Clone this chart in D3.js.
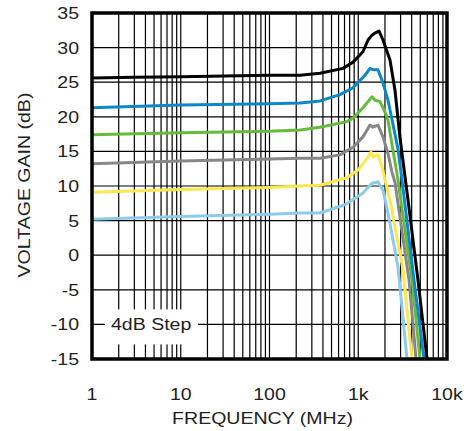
<!DOCTYPE html>
<html>
<head>
<meta charset="utf-8">
<script src="https://cdn.jsdelivr.net/npm/d3@7"></script>
<style>
  body { margin: 0; background: #fff; }
  text { font-family: "Liberation Sans", Arial, sans-serif; fill: #222; }
</style>
</head>
<body>
<svg id="chart" width="464" height="431"></svg>
<script>
// tick values and labels
const freqTicks = [1, 10, 100, 1000, 10000];
const freqLabels = ['1', '10', '100', '1k', '10k'];
const gainTicks = [-15, -10, -5, 0, 5, 10, 15, 20, 25, 30, 35];

// [frequency MHz, gain dB]
const black = [[1, 25.6], [3, 25.7], [10, 25.8], [100, 26.0], [221, 26.0], [371, 26.3], [673, 27.0], [873, 27.9],
  [1130, 29.4], [1288, 31.1], [1429, 31.8], [1545, 32.1], [1713, 32.4], [1900, 31.1], [2279, 28.2], [2596, 23.8],
  [2953, 17.0], [3276, 12.5], [3636, 8.0], [4710, -3.6], [5955, -15]];
const blue = [[1, 21.3], [10, 21.7], [100, 21.9], [221, 22.0], [371, 22.3], [623, 23.2], [873, 24.2], [1190, 26.0],
  [1356, 27.0], [1466, 26.8], [1668, 26.8], [1900, 24.9], [2163, 22.4], [2400, 19.6], [2805, 15.3], [3112, 10.9],
  [4250, -3.6], [5510, -15]];
const green = [[1, 17.4], [10, 17.7], [100, 17.9], [221, 18.1], [371, 18.5], [747, 19.3], [873, 19.8], [1130, 21.3],
  [1429, 22.9], [1545, 22.4], [1759, 22.2], [2001, 20.7], [2163, 19.5], [2400, 16.0], [2805, 10.9], [4032, -3.6],
  [4963, -15]];
const gray = [[1, 13.2], [10, 13.6], [100, 13.9], [221, 14.0], [371, 14.0], [623, 14.5], [873, 15.6], [1130, 17.1],
  [1356, 18.8], [1466, 18.5], [1668, 18.8], [1900, 17.1], [2163, 14.7], [2400, 12.0], [2596, 10.5], [3733, -3.6],
  [4477, -15]];
const yellow = [[1, 9.1], [10, 9.5], [100, 9.8], [221, 10.0], [371, 10.1], [747, 11.2], [994, 12.3], [1255, 14.0],
  [1393, 14.9], [1466, 14.2], [1668, 14.5], [1853, 12.8], [2001, 10.9], [2279, 8.0], [2596, 4.0], [2953, 0.3],
  [3193, -2.1], [4032, -15]];
const lightBlue = [[1, 5.2], [10, 5.6], [100, 5.9], [221, 6.1], [371, 6.1], [709, 7.3], [1130, 9.0], [1429, 10.4],
  [1668, 10.6], [1900, 9.4], [2163, 6.1], [2465, 2.2], [2805, -1.7], [3541, -15]];

const series = [
  { data: lightBlue, color: '#8ccbea' },
  { data: yellow, color: '#fde74c' },
  { data: gray, color: '#878787' },
  { data: green, color: '#66bb3a' },
  { data: blue, color: '#0d87c9' },
  { data: black, color: '#000' }
];

const svg = d3.select('#chart'),
  margin = { top: 13, right: 17, bottom: 72, left: 92 },
  width = +svg.attr('width') - margin.left - margin.right,
  height = +svg.attr('height') - margin.top - margin.bottom;

const x = d3.scaleLog().domain([1, 10000]).range([0, width]);
const y = d3.scaleLinear().domain([-15, 35]).range([height, 0]);

const g = svg.append('g').attr('transform', `translate(${margin.left},${margin.top})`);

// minor + major vertical grid (1..9 per decade)
const vLines = [];
for (let dec = 1; dec < 10000; dec *= 10) {
  for (let k = 1; k < 10; k++) vLines.push(dec * k);
}

g.append('g')
  .selectAll('line')
  .data(vLines)
  .enter().append('line')
  .attr('x1', d => x(d)).attr('x2', d => x(d))
  .attr('y1', 0).attr('y2', height)
  .attr('stroke', '#000').attr('stroke-width', 1.2);

g.append('g')
  .selectAll('line')
  .data(gainTicks)
  .enter().append('line')
  .attr('x1', 0).attr('x2', width)
  .attr('y1', d => y(d)).attr('y2', d => y(d))
  .attr('stroke', '#000').attr('stroke-width', 1.2);

// "4dB Step" note with white box over the grid
const note = g.append('g').attr('transform', `translate(0,${y(-10)})`);
note.append('rect')
  .attr('x', 13).attr('y', -15)
  .attr('width', 93).attr('height', 35)
  .attr('fill', '#fff');
note.append('text')
  .attr('transform', 'translate(19,6) scale(1.15,1)')
  .attr('font-size', '17px')
  .text('4dB Step');

// curves
svg.append('defs').append('clipPath').attr('id', 'clip')
  .append('rect').attr('width', width).attr('height', height);

const line = d3.line()
  .x(d => x(d[0]))
  .y(d => y(d[1]));

g.append('g')
  .attr('clip-path', 'url(#clip)')
  .selectAll('path')
  .data(series)
  .enter().append('path')
  .attr('d', d => line(d.data))
  .attr('fill', 'none')
  .attr('stroke', d => d.color)
  .attr('stroke-width', 3)
  .attr('stroke-linejoin', 'round');

// frame
g.append('rect')
  .attr('width', width).attr('height', height)
  .attr('fill', 'none')
  .attr('stroke', '#000').attr('stroke-width', 3.5);

// tick labels
g.append('g')
  .selectAll('text')
  .data(freqTicks)
  .enter().append('text')
  .attr('transform', d => `translate(${x(d)},${height + 41}) scale(1.15,1)`)
  .attr('text-anchor', 'middle')
  .attr('font-size', '17px')
  .text((d, i) => freqLabels[i]);

g.append('g')
  .selectAll('text')
  .data(gainTicks)
  .enter().append('text')
  .attr('transform', d => `translate(-13,${y(d) + 6}) scale(1.15,1)`)
  .attr('text-anchor', 'end')
  .attr('font-size', '17px')
  .text(d => d);

// axis titles
svg.append('text')
  .attr('transform', `translate(${margin.left + width / 2 - 7},424) scale(1.15,1)`)
  .attr('text-anchor', 'middle')
  .attr('font-size', '17px')
  .text('FREQUENCY (MHz)');

svg.append('text')
  .attr('transform', `translate(30,185) rotate(-90) scale(1.15,1)`)
  .attr('text-anchor', 'middle')
  .attr('font-size', '17px')
  .text('VOLTAGE GAIN (dB)');
</script>
</body>
</html>
